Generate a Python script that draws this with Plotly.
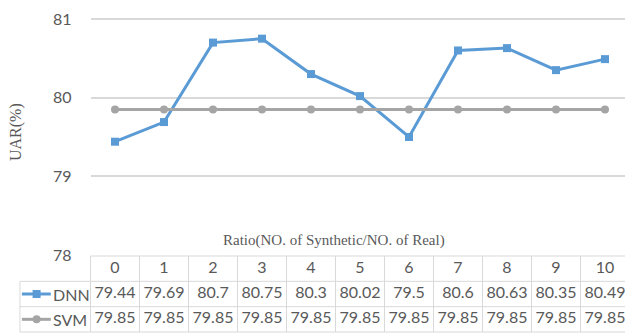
import plotly.graph_objects as go

# Data
ratios = [0, 1, 2, 3, 4, 5, 6, 7, 8, 9, 10]
dnn = [79.44, 79.69, 80.7, 80.75, 80.3, 80.02, 79.5, 80.6, 80.63, 80.35, 80.49]
svm = [79.85] * 11
series_names = ["DNN", "SVM"]
y_ticks = [78, 79, 80, 81]

DNN_COLOR = "#5b9bd5"
SVM_COLOR = "#a5a5a5"
GRID = "#d9d9d9"
TEXT = "#595959"
SANS = "Lato, 'Open Sans', sans-serif"
SERIF = "'Liberation Serif', 'Times New Roman', serif"

W, H = 625, 333
PLOT_BOTTOM_PAPER = (H - 255) / H  # split between chart area and data table

# Table x axis (full width): category index -> pixel
TX0, TX1 = -2.347, 10.408
LEG_LEFT = -1.94  # left edge of the legend column of the table

fig = go.Figure()

# Chart lines
fig.add_trace(go.Scatter(
    x=ratios, y=dnn, mode="lines+markers", name="DNN",
    line=dict(color=DNN_COLOR, width=3),
    marker=dict(symbol="square", size=8, color=DNN_COLOR),
    xaxis="x", yaxis="y", showlegend=False, cliponaxis=False))
fig.add_trace(go.Scatter(
    x=ratios, y=svm, mode="lines+markers", name="SVM",
    line=dict(color=SVM_COLOR, width=3),
    marker=dict(symbol="circle", size=8, color=SVM_COLOR),
    xaxis="x", yaxis="y", showlegend=False, cliponaxis=False))

# Data table: rows 2 = header, 1 = DNN, 0 = SVM
rows = {"header": 2, "DNN": 1, "SVM": 0}
fig.add_trace(go.Scatter(
    x=ratios, y=[rows["header"]] * len(ratios), mode="text",
    text=[str(r) for r in ratios], textfont=dict(family=SANS, size=16, color=TEXT),
    xaxis="x2", yaxis="y2", showlegend=False, hoverinfo="skip", cliponaxis=False))
for name, vals in zip(series_names, [dnn, svm]):
    fig.add_trace(go.Scatter(
        x=ratios, y=[rows[name]] * len(ratios), mode="text",
        text=[f"{v:g}" for v in vals], textfont=dict(family=SANS, size=16, color=TEXT),
        xaxis="x2", yaxis="y2", showlegend=False, hoverinfo="skip", cliponaxis=False))

# Legend keys inside the table
key_x = [-1.9, -1.6, -1.31]
for name, color, sym in [("DNN", DNN_COLOR, "square"), ("SVM", SVM_COLOR, "circle")]:
    fig.add_trace(go.Scatter(
        x=key_x, y=[rows[name]] * 3, mode="lines",
        line=dict(color=color, width=3), xaxis="x2", yaxis="y2",
        showlegend=False, hoverinfo="skip"))
    fig.add_trace(go.Scatter(
        x=[key_x[1]], y=[rows[name]], mode="markers",
        marker=dict(symbol=sym, size=8, color=color), xaxis="x2", yaxis="y2",
        showlegend=False, hoverinfo="skip"))
    fig.add_annotation(x=-1.30, y=rows[name], xref="x2", yref="y2", text=name,
                       showarrow=False, xanchor="left", yanchor="middle",
                       font=dict(family=SANS, size=16, color=TEXT))

# Table borders
shapes = []
line = dict(color=GRID, width=1)
# horizontal borders
shapes.append(dict(type="line", xref="x2", yref="y2", x0=-0.5, x1=10.5, y0=2.5, y1=2.5, line=line))
for yb in [1.5, 0.5, -0.5]:
    shapes.append(dict(type="line", xref="x2", yref="y2", x0=LEG_LEFT, x1=10.5, y0=yb, y1=yb, line=line))
# vertical borders
for i in range(len(ratios) + 1):
    xb = i - 0.5
    shapes.append(dict(type="line", xref="x2", yref="y2", x0=xb, x1=xb, y0=-0.5, y1=2.5, line=line))
shapes.append(dict(type="line", xref="x2", yref="y2", x0=LEG_LEFT, x1=LEG_LEFT, y0=-0.5, y1=1.5, line=line))
fig.update_layout(shapes=shapes)

# Axis titles (positions given in pixels, converted to paper coordinates)
fig.add_annotation(x=16 / W, y=1 - 132 / H, xref="paper", yref="paper", text="UAR(%)",
                   showarrow=False, textangle=-90, xanchor="center", yanchor="middle",
                   font=dict(family=SERIF, size=16, color=TEXT))
fig.add_annotation(x=334 / W, y=1 - 240 / H, xref="paper", yref="paper",
                   text="Ratio(NO. of Synthetic/NO. of Real)", showarrow=False,
                   xanchor="center", yanchor="middle",
                   font=dict(family=SERIF, size=15, color=TEXT))

main_x0 = (-0.5 - TX0) / (TX1 - TX0)

fig.update_layout(
    template="none",
    width=W, height=H, margin=dict(l=0, r=0, t=0, b=0, pad=0),
    paper_bgcolor="white", plot_bgcolor="white",
    xaxis=dict(domain=[main_x0, 1], range=[-0.5, TX1], visible=False, anchor="y",
               automargin=False),
    yaxis=dict(domain=[PLOT_BOTTOM_PAPER, 1], range=[78, 81 + 19 / 78.67],
               tickvals=y_ticks, showgrid=True, gridcolor=GRID, gridwidth=1.5,
               zeroline=False, showline=False, ticks="",
               tickfont=dict(family=SANS, size=16, color=TEXT),
               ticklabelstandoff=18, anchor="x", automargin=False),
    xaxis2=dict(domain=[0, 1], range=[TX0, TX1], visible=False, anchor="y2",
                automargin=False),
    yaxis2=dict(domain=[0, PLOT_BOTTOM_PAPER], range=[-0.54, 2.54], visible=False,
                anchor="x2", automargin=False),
)

fig.write_html("out.html")
